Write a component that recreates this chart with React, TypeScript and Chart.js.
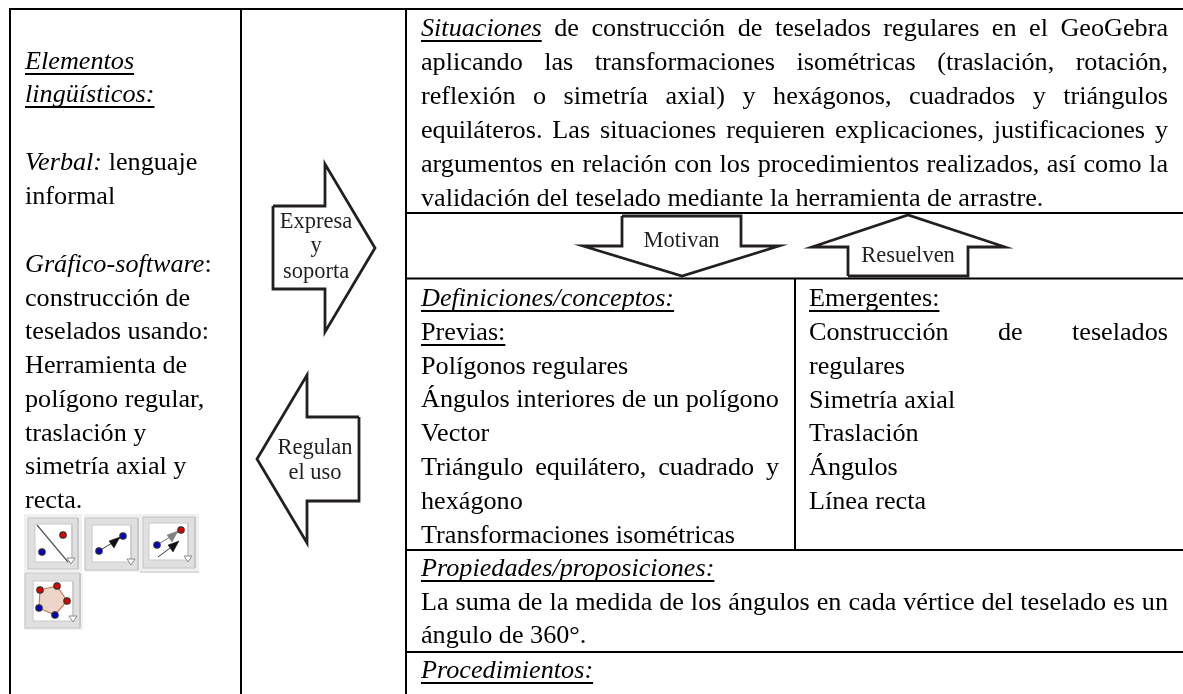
import React, { useEffect, useRef } from "react";
import { Chart, registerables } from "chart.js";

Chart.register(...registerables);

// ---- Text content. {i:..} italic, {u:..} underlined, {iu:..} both, trailing | = justified
const leftCellLines = [
  "{iu:Elementos}",
  "{iu:lingüísticos:}",
  "{i:Verbal:} lenguaje",
  "informal",
  "{i:Gráfico-software}:",
  "construcción de",
  "teselados usando:",
  "Herramienta de",
  "polígono regular,",
  "traslación y",
  "simetría axial y",
  "recta.",
];
const situationLines = [
  "{iu:Situaciones} de construcción de teselados regulares en el GeoGebra|",
  "aplicando las transformaciones isométricas (traslación, rotación,|",
  "reflexión o simetría axial) y hexágonos, cuadrados y triángulos|",
  "equiláteros. Las situaciones requieren explicaciones, justificaciones y|",
  "argumentos en relación con los procedimientos realizados, así como la|",
  "validación del teselado mediante la herramienta de arrastre.",
];
const conceptLines = [
  "{iu:Definiciones/conceptos:}",
  "{u:Previas:}",
  "Polígonos regulares",
  "Ángulos interiores de un polígono",
  "Vector",
  "Triángulo equilátero, cuadrado y|",
  "hexágono",
  "Transformaciones isométricas",
];
const emergentLines = [
  "{u:Emergentes:}",
  "Construcción de teselados|",
  "regulares",
  "Simetría axial",
  "Traslación",
  "Ángulos",
  "Línea recta",
];
const propertyLines = [
  "{iu:Propiedades/proposiciones:}",
  "La suma de la medida de los ángulos en cada vértice del teselado es un|",
  "ángulo de 360°.",
  "{iu:Procedimientos:}",
];
const arrowLabels = [
  { lines: ["Expresa", "y", "soporta"], cx: 316, ys: [227.5, 252, 278] },
  { lines: ["Regulan", "el uso"], cx: 315, ys: [454, 479] },
  { lines: ["Motivan"], cx: 681.5, ys: [247] },
  { lines: ["Resuelven"], cx: 908, ys: [262] },
];

// ---- Baselines per cell
const leftCellBaselines = [69, 102, 170, 204, 272, 306, 339, 373, 407, 441, 474, 508];
const situationBaselines = [36, 70, 104, 138, 172, 205.5];
const conceptBaselines = [306, 340, 374, 407, 441, 475, 509, 543];
const emergentBaselines = [306, 340, 374, 408, 441, 475, 509];
const propertyBaselines = [576, 610, 643, 678];

// ---- Table rules [x1, y1, x2, y2]
const tableRules = [
  [10, 9, 1183, 9],
  [406, 213, 1183, 213],
  [406, 278.5, 1183, 278.5],
  [406, 550, 1183, 550],
  [406, 652, 1183, 652],
  [10, 8, 10, 694],
  [241, 8, 241, 694],
  [406, 8, 406, 694],
  [795, 279, 795, 550],
];

// ---- Block arrows
const arrowExpresa = [[273, 206], [325, 206], [325, 164], [375, 248], [325, 332], [325, 289], [273, 289], [273, 206]];
const arrowRegulan = [[359, 417], [307, 417], [307, 375], [257, 459], [307, 543], [307, 501], [359, 501], [359, 417]];
const arrowMotivan = [[622, 216], [741, 216], [741, 246], [779, 246], [682, 276], [583, 246], [622, 246], [622, 216]];
const arrowResuelven = [[848, 276], [968, 276], [968, 247], [1005, 247], [908, 215], [812, 247], [848, 247], [848, 276]];

// ---- GeoGebra tool icons: [left, top, right, bottom]
const iconBacks = [[24, 514, 82, 572], [84, 514, 140, 572], [140, 514, 199, 571], [24, 573, 83, 630]];
const iconFrames = [[28, 518, 78, 569], [85, 518, 138, 570], [143, 517, 195, 568], [25, 573, 80, 628]];
const iconPanels = [[35, 524, 72, 562], [92, 525, 131, 562], [149, 523, 188, 560], [33, 581, 73, 621]];
const iconCarets = [[71, 561], [131, 562], [188, 559], [73, 619]];
const redDots = [[63, 535], [181, 530], [40, 590], [57, 586], [67, 601]];
const blueDots = [[42, 552], [99, 551], [123, 536], [157, 545], [55, 615], [39, 608]];
const iconPentagon = [[40, 590], [57, 586], [67, 601], [55, 615], [39, 608], [40, 590]];
const iconLineDiagonal = [[37, 525], [68, 562]];
const iconVectorBlack = [[99, 551], [120, 538]];
const iconHeadBlack = [[120, 537], [109, 541], [114, 548], [120, 537]];
const iconVectorGrey = [[157, 545], [178, 532]];
const iconHeadGrey = [[178, 531], [167, 535], [172, 542], [178, 531]];
const iconVectorFree = [[158, 557], [174, 545]];
const iconHeadFree = [[179, 541], [168, 545], [173, 552], [179, 541]];
const iconRuleUnder = [[140, 572], [199, 572]];

const FONT_FAMILY = '"Liberation Serif", "Times New Roman", serif';

const rectPath = (r: number[]) => [[r[0], r[1]], [r[2], r[1]], [r[2], r[3]], [r[0], r[3]], [r[0], r[1]]];
const toXY = (pts: number[][]) => pts.map(([x, y]) => ({ x, y }));

function shape(pts: number[][], stroke: string, width: number, fill?: string) {
  return {
    data: toXY(pts),
    showLine: true,
    borderColor: stroke,
    borderWidth: width,
    backgroundColor: fill ?? "transparent",
    fill: fill ? "shape" : false,
    tension: 0,
    pointRadius: 0,
    pointHoverRadius: 0,
    borderJoinStyle: "miter",
    borderCapStyle: "butt",
  };
}

function dots(pts: number[][], color: string) {
  return {
    data: toXY(pts),
    showLine: false,
    pointRadius: 3.2,
    pointBorderWidth: 1.2,
    pointBorderColor: "#333333",
    pointBackgroundColor: color,
  };
}

function buildDatasets() {
  const list: any[] = [];
  iconBacks.forEach((r) => list.push(shape(rectPath(r), "#f0f0f0", 0, "#f0f0f0")));
  iconFrames.forEach((r) => list.push(shape(rectPath(r), "#c4c4c4", 1, "#e0e0e0")));
  iconPanels.forEach((r) => list.push(shape(rectPath(r), "#c8c8c8", 1, "#ffffff")));
  list.push(shape(iconLineDiagonal, "#555555", 1.2));
  list.push(shape(iconVectorBlack, "#444444", 1));
  list.push(shape(iconHeadBlack, "#111111", 0.5, "#111111"));
  list.push(shape(iconVectorGrey, "#777777", 1));
  list.push(shape(iconHeadGrey, "#808080", 0.5, "#808080"));
  list.push(shape(iconVectorFree, "#333333", 1));
  list.push(shape(iconHeadFree, "#111111", 0.5, "#111111"));
  list.push(shape(iconPentagon, "#c8825a", 1.2, "#ecd6ca"));
  list.push(shape(iconRuleUnder, "#b8b8b8", 1));
  iconCarets.forEach(([x, y]) =>
    list.push(shape([[x - 4, y - 3], [x + 4, y - 3], [x, y + 3], [x - 4, y - 3]], "#8a8a8a", 1, "#ffffff"))
  );
  list.push(dots(redDots, "#e00000"));
  list.push(dots(blueDots, "#0000c8"));
  tableRules.forEach(([a, b, c, d]) => list.push(shape([[a, b], [c, d]], "#000000", 2)));
  [arrowExpresa, arrowRegulan, arrowMotivan, arrowResuelven].forEach((a) =>
    list.push(shape(a, "#231f20", 2.8, "#ffffff"))
  );
  // painter's order: later list items end up on top
  return list.map((d, i) => ({ ...d, order: list.length - i }));
}

type Run = { text: string; i: boolean; u: boolean; space: boolean };

function parseRuns(src: string): Run[] {
  const runs: Run[] = [];
  const re = /\{(iu|i|u):([^}]*)\}|([^{]+)/g;
  let m: RegExpExecArray | null;
  while ((m = re.exec(src))) {
    const style = m[1] ?? "";
    const body = m[1] ? m[2] : m[3];
    body.split(/( )/).forEach((t) => {
      if (t) runs.push({ text: t, i: style.includes("i"), u: style.includes("u"), space: t === " " });
    });
  }
  return runs;
}

const BODY_SIZE = 26.2;
const SMALL_SIZE = 22.5;

function drawLine(ctx: CanvasRenderingContext2D, src: string, x: number, y: number, right: number) {
  const justify = src.endsWith("|");
  const runs = parseRuns(justify ? src.slice(0, -1) : src);
  const fontOf = (r: Run) => `${r.i ? "italic " : ""}${BODY_SIZE}px ${FONT_FAMILY}`;
  let gap = -1;
  if (justify) {
    let used = 0;
    let spaces = 0;
    runs.forEach((r) => {
      if (r.space) spaces += 1;
      else {
        ctx.font = fontOf(r);
        used += ctx.measureText(r.text).width;
      }
    });
    gap = spaces ? (right - x - used) / spaces : 0;
  }
  let cx = x;
  runs.forEach((r) => {
    ctx.font = fontOf(r);
    const w = r.space && gap >= 0 ? gap : ctx.measureText(r.text).width;
    if (!r.space) ctx.fillText(r.text, cx, y);
    if (r.u) ctx.fillRect(cx, y + 4, w, 2);
    cx += w;
  });
}

const textPlugin = {
  id: "cellText",
  afterDatasetsDraw(chart: any) {
    const { ctx, scales } = chart;
    const px = (v: number) => scales.x.getPixelForValue(v);
    const py = (v: number) => scales.y.getPixelForValue(v);
    ctx.save();
    ctx.fillStyle = "#000000";
    ctx.textBaseline = "alphabetic";
    ctx.textAlign = "left";
    const block = (lines: string[], ys: number[], left: number, right: number) =>
      lines.forEach((l, i) => drawLine(ctx, l, px(left), py(ys[i]), px(right)));
    block(leftCellLines, leftCellBaselines, 25, 235);
    block(situationLines, situationBaselines, 421, 1168);
    block(conceptLines, conceptBaselines, 421, 779);
    block(emergentLines, emergentBaselines, 809, 1168);
    block(propertyLines, propertyBaselines, 421, 1168);
    ctx.textAlign = "center";
    ctx.font = `${SMALL_SIZE}px ${FONT_FAMILY}`;
    ctx.fillStyle = "#231f20";
    arrowLabels.forEach((a) =>
      a.lines.forEach((l, i) => ctx.fillText(l, px(a.cx), py(a.ys[i])))
    );
    ctx.restore();
  },
};

export default function App() {
  const ref = useRef<HTMLCanvasElement | null>(null);
  useEffect(() => {
    const chart = new Chart(ref.current as HTMLCanvasElement, {
      type: "scatter",
      data: { datasets: buildDatasets() },
      options: {
        animation: false,
        responsive: false,
        events: [],
        layout: { padding: 0, autoPadding: false },
        plugins: { legend: { display: false }, tooltip: { enabled: false } },
        scales: {
          x: { type: "linear", display: false, min: 0, max: 1183 },
          y: { type: "linear", display: false, min: 0, max: 694, reverse: true },
        },
      },
      plugins: [textPlugin],
    } as any);
    return () => chart.destroy();
  }, []);
  return (
    <div style={{ position: "fixed", left: 0, top: 0, width: 1183, height: 694, background: "#ffffff" }}>
      <canvas ref={ref} width={1183} height={694} style={{ display: "block" }} />
    </div>
  );
}
